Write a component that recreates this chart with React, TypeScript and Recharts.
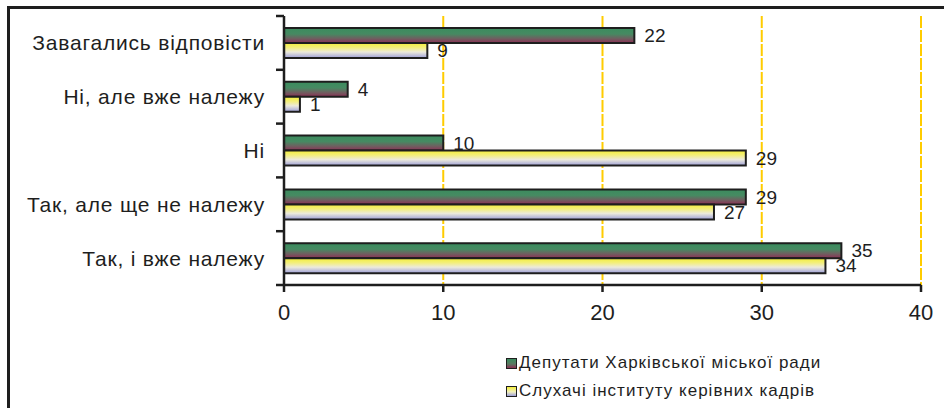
import { Bar, BarChart, CartesianGrid, LabelList, Legend, XAxis, YAxis } from "recharts";

const categories = [
  "Завагались відповісти",
  "Ні, але вже належу",
  "Ні",
  "Так, але ще не належу",
  "Так, і вже належу",
];
const deputies = [22, 4, 10, 29, 35];
const listeners = [9, 1, 29, 27, 34];
const xTicks = [0, 10, 20, 30, 40];
const seriesNames = ["Депутати Харківської міської ради", "Слухачі інституту керівних кадрів"];

const data = categories.map((c, i) => ({ c, d: deputies[i], s: listeners[i] }));

const FONT = '"Liberation Sans", Arial, sans-serif';
const INK = "#1e1e1e";
const PLOT_TOP = 16;
const PLOT_BOTTOM = 285;
const BAND = (PLOT_BOTTOM - PLOT_TOP) / categories.length;

const greenCss = "linear-gradient(#3b8c5e, #5a7a62 55%, #8c2f55)";
const yellowCss = "linear-gradient(#f3ee3a, #f1efc0 55%, #9d9fd8)";

function CategoryTick(props: any) {
  const { x, y, payload, index } = props;
  return (
    <g>
      <line x1={x - 8} x2={x} y1={y - BAND / 2} y2={y - BAND / 2} stroke={INK} strokeWidth={2.5} />
      {index === categories.length - 1 && (
        <line x1={x - 8} x2={x} y1={y + BAND / 2} y2={y + BAND / 2} stroke={INK} strokeWidth={2.5} />
      )}
      <text
        x={x - 19}
        y={y}
        dy="0.36em"
        textAnchor="end"
        fontSize={21}
        letterSpacing={0.8}
        fill={INK}
        fontFamily={FONT}
      >
        {payload.value}
      </text>
    </g>
  );
}

function LegendBox() {
  return (
    <div style={{ fontFamily: FONT, fontSize: 17, letterSpacing: 1, color: INK }}>
      {seriesNames.map((n, i) => (
        <div key={n} style={{ display: "flex", alignItems: "center", height: 28 }}>
          <span
            style={{
              display: "inline-block",
              width: 9,
              height: 9,
              border: `1.5px solid ${INK}`,
              background: i ? yellowCss : greenCss,
              marginRight: 2,
            }}
          />
          {n}
        </div>
      ))}
    </div>
  );
}

export default function App() {
  return (
    <div style={{ position: "fixed", left: 0, top: 0, width: 944, height: 408, overflow: "hidden", background: "#fff" }}>
      <div
        style={{
          position: "absolute",
          left: 7,
          top: 6,
          width: 1000,
          height: 500,
          border: `3px solid ${INK}`,
        }}
      />
      <div style={{ position: "absolute", left: 0, top: 0 }}>
        <BarChart
          width={944}
          height={408}
          data={data}
          layout="vertical"
          barSize={15}
          barGap={0}
          margin={{ top: PLOT_TOP, right: 23, bottom: 408 - PLOT_BOTTOM - 40, left: 0 }}
        >
          <defs>
            <linearGradient id="gDep" x1="0" y1="0" x2="0" y2="1">
              <stop offset="0%" stopColor="#3b8c5e" />
              <stop offset="40%" stopColor="#468a62" />
              <stop offset="70%" stopColor="#6e6060" />
              <stop offset="100%" stopColor="#8c2f55" />
            </linearGradient>
            <linearGradient id="gSl" x1="0" y1="0" x2="0" y2="1">
              <stop offset="0%" stopColor="#f3ee3a" />
              <stop offset="30%" stopColor="#f3ef7a" />
              <stop offset="60%" stopColor="#eceadb" />
              <stop offset="100%" stopColor="#9d9fd8" />
            </linearGradient>
          </defs>
          <CartesianGrid
            horizontal={false}
            stroke="#ffcc00"
            strokeWidth={2}
            strokeDasharray="12 2"
          />
          <XAxis
            type="number"
            domain={[0, 40]}
            ticks={xTicks}
            height={40}
            tickSize={7}
            tickMargin={12}
            axisLine={{ stroke: INK, strokeWidth: 2.5 }}
            tickLine={{ stroke: INK, strokeWidth: 2.5 }}
            tick={{ fontSize: 22, fill: INK, fontFamily: FONT }}
          />
          <YAxis
            type="category"
            dataKey="c"
            width={284}
            tickSize={0}
            tickMargin={0}
            tickLine={false}
            axisLine={{ stroke: INK, strokeWidth: 2.5 }}
            tick={(p: any) => <CategoryTick {...p} />}
            interval={0}
          />
          <Legend
            layout="vertical"
            align="center"
            verticalAlign="middle"
            wrapperStyle={{ left: 506, top: 349, width: 360 }}
            content={() => <LegendBox />}
          />
          <Bar
            dataKey="d"
            name={seriesNames[0]}
            fill="url(#gDep)"
            stroke={INK}
            strokeWidth={2}
            isAnimationActive={false}
          >
            <LabelList dataKey="d" position="right" offset={10} fontSize={19} fill={INK} fontFamily={FONT} />
          </Bar>
          <Bar
            dataKey="s"
            name={seriesNames[1]}
            fill="url(#gSl)"
            stroke={INK}
            strokeWidth={2}
            isAnimationActive={false}
          >
            <LabelList dataKey="s" position="right" offset={10} fontSize={19} fill={INK} fontFamily={FONT} />
          </Bar>
        </BarChart>
      </div>
    </div>
  );
}
